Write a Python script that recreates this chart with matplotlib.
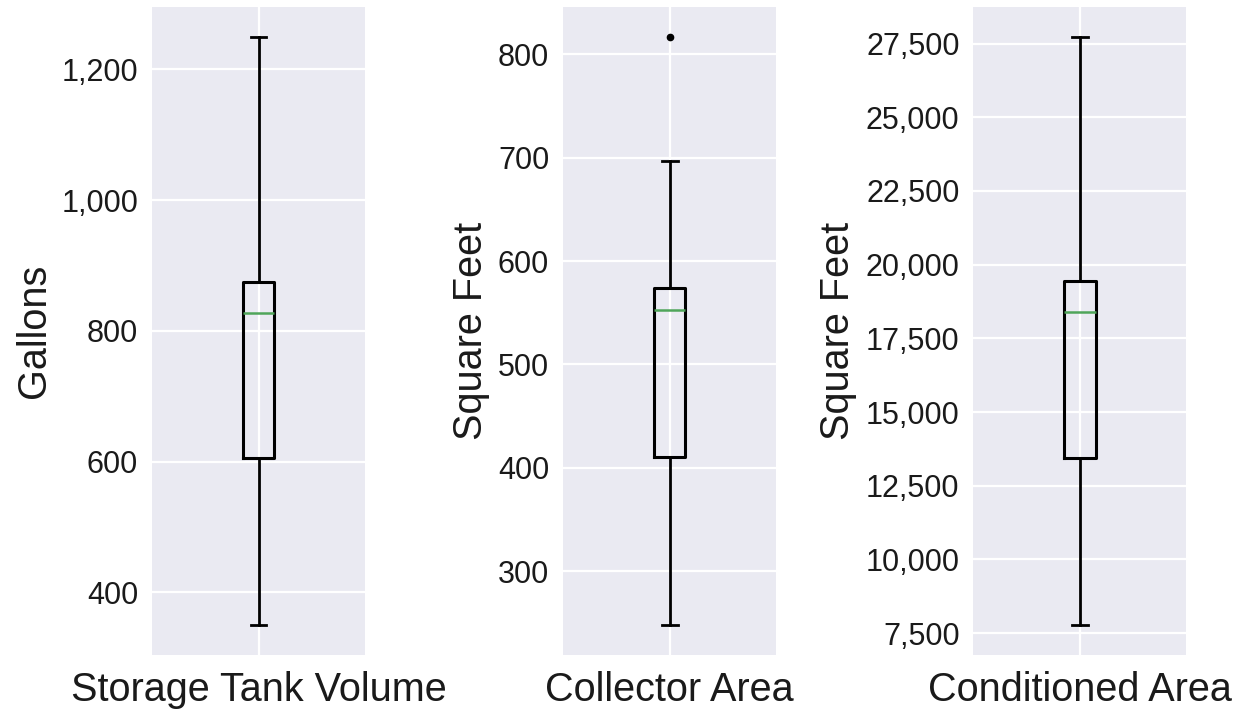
import matplotlib
matplotlib.use("Agg")
import matplotlib.pyplot as plt
from matplotlib.ticker import MultipleLocator, StrMethodFormatter

# box statistics
names = ["Storage Tank Volume", "Collector Area", "Conditioned Area"]
ylabels = ["Gallons", "Square Feet", "Square Feet"]
whislo = [350, 248, 7770]
q1 = [605, 411, 13430]
med = [827, 553, 18380]
q3 = [875, 574, 19430]
whishi = [1250, 697, 27740]
fliers = [[], [817], []]
tick_steps = [200, 100, 2500]

plt.rcParams['font.family'] = ['Liberation Sans', 'DejaVu Sans']
plt.rcParams['text.color'] = '#1a1a1a'
plt.rcParams['axes.labelcolor'] = '#1a1a1a'
plt.rcParams['ytick.color'] = '#1a1a1a'
plt.rcParams['xtick.color'] = '#1a1a1a'

fig = plt.figure(figsize=(12.44, 7.13), dpi=100)
lefts = [0.1222, 0.4526, 0.7825]

for i in range(3):
    ax = fig.add_axes([lefts[i], 0.082, 0.1712, 0.908])
    ax.set_facecolor('#EAEAF2')
    for s in ax.spines.values():
        s.set_visible(False)
    stats = [dict(med=med[i], q1=q1[i], q3=q3[i], whislo=whislo[i],
                  whishi=whishi[i], fliers=fliers[i], label=names[i])]
    ax.bxp(stats, showfliers=True,
           boxprops=dict(color='black', linewidth=2.2),
           whiskerprops=dict(color='black', linewidth=2.0),
           capprops=dict(color='black', linewidth=2.0),
           medianprops=dict(color='#4fa55a', linewidth=1.8),
           flierprops=dict(marker='o', markerfacecolor='black',
                           markeredgecolor='black', markersize=4.5))
    ax.set_axisbelow(True)
    ax.grid(True, color='white', linewidth=1.6)
    ax.yaxis.set_major_locator(MultipleLocator(tick_steps[i]))
    ax.yaxis.set_major_formatter(StrMethodFormatter('{x:,.0f}'))
    ax.tick_params(axis='y', length=0, pad=10, labelsize=22)
    ax.tick_params(axis='x', length=0, pad=12, labelsize=28.5)
    ax.set_ylabel(ylabels[i], fontsize=28.5, labelpad=6)

plt.savefig("out.png", dpi=100)
